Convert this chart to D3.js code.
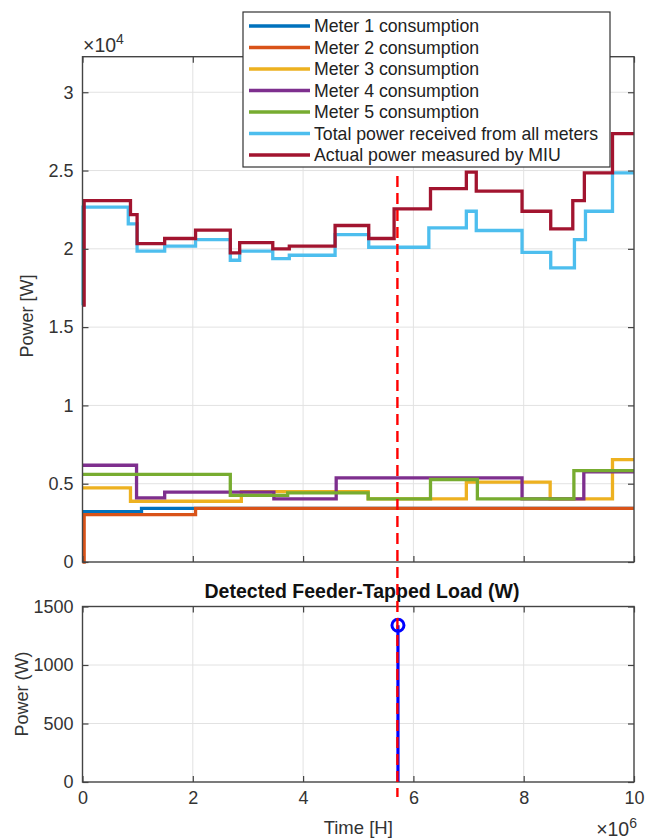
<!DOCTYPE html>
<html><head><meta charset="utf-8">
<script src="https://cdn.jsdelivr.net/npm/d3@7"></script>
<style>body{margin:0;background:#fff}svg{display:block;font-family:"Liberation Sans",Arial,sans-serif}</style>
</head><body><svg id="c" width="645" height="840"></svg>
<script>
// ---- data (time in units of 1e6 H, power in W) ----
const seriesNames = ["Meter 1 consumption","Meter 2 consumption","Meter 3 consumption","Meter 4 consumption","Meter 5 consumption","Total power received from all meters","Actual power measured by MIU"];
const seriesColors = ["#0072BD","#D95319","#EDB120","#7E2F8E","#77AC30","#4DBEEE","#A2142F"];
const meter1T = [0, 1.07];
const meter1V = [3220, 3420];
const meter2T = [0, 0.03, 2.05];
const meter2V = [0, 3030, 3420];
const meter3T = [0, 0.87, 2.88, 5.18, 6.96, 8.48, 9.61];
const meter3V = [4740, 3880, 4500, 4030, 5100, 4030, 6540];
const meter4T = [0, 0.98, 1.49, 3.47, 4.60, 7.97, 9.09];
const meter4V = [6180, 4100, 4460, 4030, 5370, 4030, 5750];
const meter5T = [0, 2.68, 3.72, 5.18, 6.31, 7.16, 8.91];
const meter5V = [5590, 4250, 4420, 4030, 5270, 4030, 5840];
const totalT = [0, 0.01, 0.83, 0.99, 1.49, 2.05, 2.68, 2.85, 3.45, 3.75, 4.58, 5.19, 6.28, 6.96, 7.14, 7.97, 8.49, 8.92, 9.12, 9.61];
const totalV = [16400, 22660, 21600, 19850, 20170, 20590, 19270, 19850, 19380, 19590, 20910, 20100, 21340, 22400, 21170, 19780, 18780, 20590, 22400, 24850];
const miuT = [0, 0.03, 0.87, 0.99, 1.49, 2.05, 2.68, 2.85, 3.45, 3.75, 4.58, 5.19, 5.65, 6.31, 6.96, 7.14, 7.97, 8.49, 8.89, 9.10, 9.61];
const miuV = [16400, 23080, 22190, 20330, 20660, 21190, 19740, 20400, 20000, 20170, 21490, 20660, 22550, 23850, 24900, 23680, 22400, 21280, 23080, 24850, 27360];
const detectT = [5.72];
const detectV = [1340];
const markerT = 5.71;
const xTicks = [0, 2, 4, 6, 8, 10];
const yTicksTop = [0, 5000, 10000, 15000, 20000, 25000, 30000];
const yTickLabelsTop = ["0","0.5","1","1.5","2","2.5","3"];
const yTicksBot = [0, 500, 1000, 1500];
const tEnd = 10;

const seriesT = [meter1T, meter2T, meter3T, meter4T, meter5T, totalT, miuT];
const seriesV = [meter1V, meter2V, meter3V, meter4V, meter5V, totalV, miuV];

// ---- layout ----
const svg = d3.select("#c");
const L = 82.5, R = 634;
const x = d3.scaleLinear().domain([0, 10]).range([L, R]);
const yT = d3.scaleLinear().domain([0, 32270]).range([562, 56.7]);
const yB = d3.scaleLinear().domain([0, 1500]).range([782, 606.5]);
const gridC = "#e2e2e2", axC = "#444", txtC = "#333", FS = 18;

function panel(y, yTicks, top, bottom) {
  const g = svg.append("g");
  g.selectAll(".gx").data(xTicks.slice(1, -1)).join("line")
    .attr("x1", d => x(d)).attr("x2", d => x(d)).attr("y1", top).attr("y2", bottom)
    .attr("stroke", gridC).attr("stroke-width", 1);
  g.selectAll(".gy").data(yTicks.filter(v => y(v) < bottom - 1 && y(v) > top + 1)).join("line")
    .attr("x1", L).attr("x2", R).attr("y1", d => y(d)).attr("y2", d => y(d))
    .attr("stroke", gridC).attr("stroke-width", 1);
  return g;
}
function frame(y, yTicks, yLabels, top, bottom, showX) {
  const g = svg.append("g");
  const ax = d3.axisLeft(y).tickValues(yTicks).tickSizeInner(-6).tickSizeOuter(0).tickPadding(9)
    .tickFormat((d, i) => yLabels ? yLabels[i] : d);
  const ga = g.append("g").attr("transform", `translate(${L},0)`).call(ax);
  ga.select(".domain").remove();
  ga.selectAll("line").attr("stroke", axC).attr("stroke-width", 1.2);
  ga.selectAll("text").attr("font-size", FS).attr("fill", txtC).attr("font-family", "Liberation Sans, Arial, sans-serif");
  const axr = d3.axisRight(y).tickValues(yTicks).tickSizeInner(-6).tickSizeOuter(0).tickFormat("");
  const gr = g.append("g").attr("transform", `translate(${R},0)`).call(axr);
  gr.select(".domain").remove();
  gr.selectAll("line").attr("stroke", axC).attr("stroke-width", 1.2);
  const axb = d3.axisBottom(x).tickValues(xTicks).tickSizeInner(-6).tickSizeOuter(0).tickPadding(9)
    .tickFormat(showX ? d3.format("d") : "");
  const gb = g.append("g").attr("transform", `translate(0,${bottom})`).call(axb);
  gb.select(".domain").remove();
  gb.selectAll("line").attr("stroke", axC).attr("stroke-width", 1.2);
  gb.selectAll("text").attr("font-size", FS).attr("fill", txtC).attr("font-family", "Liberation Sans, Arial, sans-serif");
  const axt = d3.axisTop(x).tickValues(xTicks).tickSizeInner(-6).tickSizeOuter(0).tickFormat("");
  const gt = g.append("g").attr("transform", `translate(0,${top})`).call(axt);
  gt.select(".domain").remove();
  gt.selectAll("line").attr("stroke", axC).attr("stroke-width", 1.2);
  g.append("rect").attr("x", L).attr("y", top).attr("width", R - L).attr("height", bottom - top)
    .attr("fill", "none").attr("stroke", axC).attr("stroke-width", 1.4);
  return g;
}

// ---- top panel ----
const topTop = yT.range()[1], topBot = yT.range()[0];
panel(yT, yTicksTop, topTop, topBot);
const line = d3.line().x(d => x(d[0])).y(d => yT(d[1])).curve(d3.curveStepAfter);
const gl = svg.append("g");
seriesT.forEach((T, i) => {
  const V = seriesV[i];
  const pts = T.map((t, j) => [t, V[j]]);
  pts.push([tEnd, V[V.length - 1]]);
  gl.append("path").attr("d", line(pts)).attr("fill", "none")
    .attr("stroke", seriesColors[i]).attr("stroke-width", 3.3).attr("stroke-linejoin", "miter");
});
frame(yT, yTicksTop, yTickLabelsTop, topTop, topBot, false);

// x10^4
const e4 = svg.append("text").attr("x", 83).attr("y", 52).attr("font-size", 19.5).attr("fill", txtC);
e4.append("tspan").text("×10");
e4.append("tspan").attr("font-size", 14).attr("dy", -8).text("4");

svg.append("text").attr("transform", `translate(33,316) rotate(-90)`).attr("text-anchor", "middle")
  .attr("font-size", FS).attr("fill", txtC).text("Power [W]");

// legend
const lg = svg.append("g");
lg.append("rect").attr("x", 243).attr("y", 12).attr("width", 367).attr("height", 155)
  .attr("fill", "#fff").attr("stroke", "#333").attr("stroke-width", 1.2);
seriesNames.forEach((n, i) => {
  const yy = 26 + i * 21.5;
  lg.append("line").attr("x1", 249).attr("x2", 310).attr("y1", yy).attr("y2", yy)
    .attr("stroke", seriesColors[i]).attr("stroke-width", 3.5);
  lg.append("text").attr("x", 314).attr("y", yy + 6).attr("font-size", 17.7).attr("fill", "#222").text(n);
});

// ---- bottom panel ----
const botTop = yB.range()[1], botBot = yB.range()[0];
panel(yB, yTicksBot, botTop, botBot);
const gs = svg.append("g");
detectT.forEach((t, i) => {
  gs.append("line").attr("x1", x(t)).attr("x2", x(t)).attr("y1", yB(0)).attr("y2", yB(detectV[i]))
    .attr("stroke", "#0000ff").attr("stroke-width", 3.2);
  gs.append("circle").attr("cx", x(t)).attr("cy", yB(detectV[i])).attr("r", 6)
    .attr("fill", "none").attr("stroke", "#0000ff").attr("stroke-width", 3);
});
frame(yB, yTicksBot, null, botTop, botBot, true);

svg.append("text").attr("x", 362).attr("y", 598).attr("text-anchor", "middle")
  .attr("font-size", 19.5).attr("font-weight", "bold").attr("fill", "#111").text("Detected Feeder-Tapped Load (W)");
svg.append("text").attr("transform", `translate(28,694) rotate(-90)`).attr("text-anchor", "middle")
  .attr("font-size", FS).attr("fill", txtC).text("Power (W)");
svg.append("text").attr("x", (L + R) / 2).attr("y", 834).attr("text-anchor", "middle")
  .attr("font-size", 18.5).attr("fill", txtC).text("Time [H]");
const e6 = svg.append("text").attr("x", 637).attr("y", 836).attr("text-anchor", "end").attr("font-size", 19.5).attr("fill", txtC);
e6.append("tspan").text("×10");
e6.append("tspan").attr("font-size", 14).attr("dy", -8).text("6");

// red dashed marker across both panels
svg.append("line").attr("x1", x(markerT)).attr("x2", x(markerT)).attr("y1", 176).attr("y2", 797)
  .attr("stroke", "#ff0000").attr("stroke-width", 2.4).attr("stroke-dasharray", "11,6");
</script></body></html>
